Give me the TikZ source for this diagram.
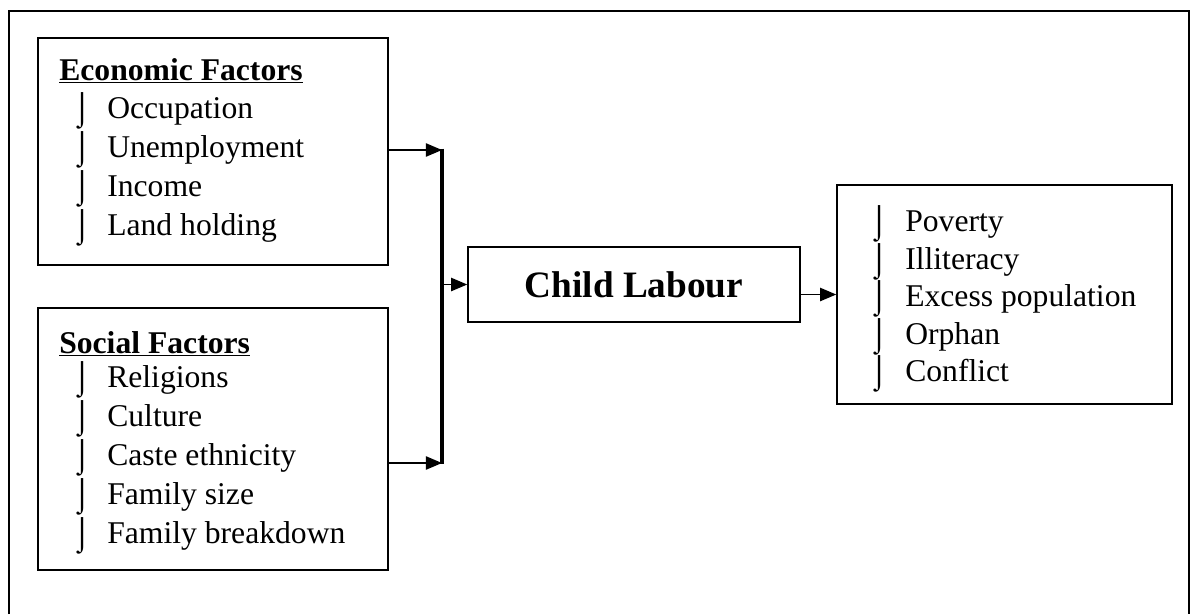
\documentclass[tikz,border=0pt]{standalone}
\usepackage{fontspec}
\setmainfont{Liberation Serif}
\usetikzlibrary{arrows.meta}
\newcommand{\itemmark}{⌡}
\tikzset{
  box/.style={draw, line width=1.1pt, inner sep=0pt},
  head/.style={anchor=base west, inner sep=0pt, font=\fontsize{22.5}{27}\selectfont\bfseries},
  entry/.style={anchor=base west, inner sep=0pt, font=\fontsize{22.5}{27}\selectfont},
  bulletmark/.style={anchor=base west, inner sep=0pt, font=\fontsize{23}{27}\selectfont},
  link/.style={line width=1pt, -{Triangle[length=11.5pt,width=9.5pt]}},
  spine/.style={line width=2.5pt}
}
\begin{document}
\begin{tikzpicture}[x=0.025cm, y=-0.025cm]
\useasboundingbox (0,0) rectangle (1191,614);
\draw[line width=1.8pt] (9,614) -- (9,11) -- (1189,11) -- (1189,614);
% boxes
\node(econ) at (213,151.5)[box, minimum width=350*0.025cm, minimum height=227*0.025cm] {};
\node(social) at (213,439)[box, minimum width=350*0.025cm, minimum height=262*0.025cm] {};
\node(child) at (634,284.5)[box, minimum width=332*0.025cm, minimum height=75*0.025cm,
  font=\fontsize{26.5}{30}\selectfont\bfseries] {Child Labour};
\node(causes) at (1004.5,294.5)[box, minimum width=335*0.025cm, minimum height=219*0.025cm] {};
% texts
\node(econhead) at (59,80)[head] {\underline{Economic Factors}};
\foreach \t [count=\i] in {Occupation, Unemployment, Income, Land holding} {
  \node(econm\i) at (72,80+39*\i)[bulletmark] {\itemmark};
  \node(econ\i) at (107,79+39*\i)[entry] {\t};
}
\node(socialhead) at (59,353)[head] {\underline{Social Factors}};
\foreach \t [count=\i] in {Religions, Culture, Caste ethnicity, Family size, Family breakdown} {
  \node(socialm\i) at (72,349+39*\i)[bulletmark] {\itemmark};
  \node(social\i) at (107,348+39*\i)[entry] {\t};
}
\foreach \t [count=\i] in {Poverty, Illiteracy, Excess population, Orphan, Conflict} {
  \node(causesm\i) at (869,195+37.5*\i)[bulletmark] {\itemmark};
  \node(causes\i) at (905,194+37.5*\i)[entry] {\t};
}
% connectors
\coordinate(jtop) at (442,150);
\coordinate(jbot) at (442,463);
\draw[link] (econ.east |- jtop) -- (jtop);
\draw[link] (social.east |- jbot) -- (jbot);
\draw[spine] ([yshift=1pt]jtop) -- ([yshift=-1pt]jbot);
\draw[link] (child.west -| jtop) -- (child.west);
\draw[link] (child.east |- causes.west) -- (causes.west);
\end{tikzpicture}
\end{document}
